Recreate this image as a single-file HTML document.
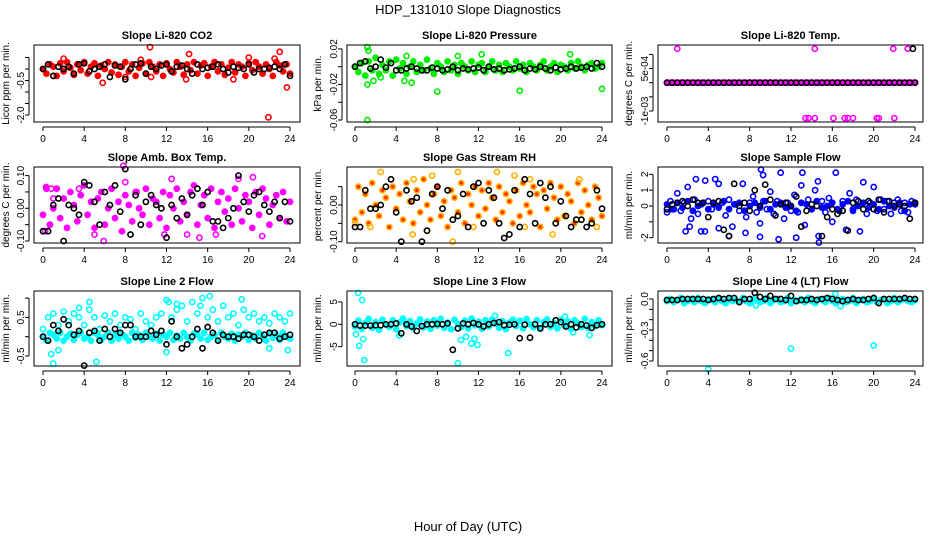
<!DOCTYPE html>
<html><head><meta charset="utf-8"><style>
html,body{margin:0;padding:0;background:#fff;}
svg{display:block;font-family:"Liberation Sans",Arial,sans-serif;}
</style></head><body>
<svg id="chart" width="936" height="540" viewBox="0 0 936 540" xmlns="http://www.w3.org/2000/svg">
<text x="468" y="14" text-anchor="middle" font-size="13">HDP_131010  Slope Diagnostics</text>
<text x="468" y="531" text-anchor="middle" font-size="13">Hour of Day (UTC)</text>
</svg>
<script>
const xTicks = [0,4,8,12,16,20,24];
// Panel 1: CO2
const co2Col = [0.0,-0.2,0.2,0.1,-0.3,0.25,-0.1,0.3,0.05,-0.25,0.2,-0.05,0.3,-0.2,0.1,0.25,-0.3,0.15,0.0,0.3,-0.15,0.2,-0.25,0.1,0.3,-0.1,0.2,-0.3,0.05,0.25,-0.2,0.3,0.1,-0.1,0.2,-0.3,0.25,0.0,-0.15,0.3,0.1,-0.25,0.2,-0.05,0.3,-0.2,0.15,0.25,-0.3,0.1,0.3,-0.1,0.2,-0.25,0.05,0.3,-0.15,0.2,0.1,-0.3,0.25,-0.05,0.3,0.1,-0.2,0.2,0.0,-0.3,0.3,0.15,-0.1,0.2,-0.2];
const co2OutX = [10.4,5.8,21.9,23.7,23.0,14.2,9.5,18.5,13.9,2.0,20.0,22.5,10.5,1.0,8.0];
const co2OutY = [0.95,-0.6,-2.1,-0.8,0.75,0.65,0.4,-0.45,-0.45,0.45,0.5,0.45,-0.35,-0.3,-0.35];
const co2Blk = [0.0,0.2,-0.3,0.1,0.0,0.1,-0.2,0.2,0.25,-0.1,0.0,0.1,0.2,-0.35,0.15,0.1,-0.45,0.0,0.2,0.25,-0.2,0.1,0.0,0.15,0.2,-0.1,0.1,0.15,0.0,-0.2,0.2,0.0,0.05,0.1,0.2,0.0,-0.15,0.1,0.05,0.0,0.2,-0.15,0.0,0.0,0.05,0.1,0.0,0.2,-0.3];
// Panel 2: Pressure
const presCol = [0.0,-0.006,0.004,-0.01,0.006,-0.004,0.01,-0.008,0.002,-0.004,0.006,-0.01,0.008,-0.002,0.004,-0.008,0.0,0.006,-0.006,0.002,-0.004,0.008,-0.002,-0.008,0.004,0.0,-0.006,0.006,-0.004,0.002,-0.008,0.004,0.0,-0.004,0.006,-0.006,0.002,0.004,-0.006,0.0,0.006,-0.004,0.002,-0.006,0.004,0.0,-0.004,0.006,-0.002,0.002,-0.006,0.004,0.0,-0.004,0.002,0.006,-0.004,0.0,0.004,-0.006,0.002,0.0,-0.004,0.004,-0.002,0.006,0.0,-0.004,0.002,0.004,-0.002,0.0,0.004];
const presOutX = [1.2,1.3,1.2,1.2,8.0,1.8,5.5,5.0,24.0,10.0,12.3,20.9,16.0,4.8,2.5];
const presOutY = [0.022,0.018,-0.06,-0.02,-0.028,-0.016,-0.018,0.012,-0.025,0.012,0.014,0.014,-0.027,-0.016,-0.012];
const presBlk = [0.0,0.004,0.006,-0.002,0.0,0.008,-0.001,0.004,-0.004,-0.004,-0.002,0.0,-0.002,-0.004,-0.004,-0.001,-0.002,-0.004,-0.003,0.0,-0.004,-0.002,-0.003,-0.002,-0.001,-0.004,0.0,-0.003,-0.002,-0.004,-0.003,-0.002,0.0,-0.004,-0.002,-0.003,0.0,-0.002,-0.004,-0.001,-0.003,-0.002,0.0,-0.002,-0.001,0.0,-0.002,0.004,0.0];
// Panel 3: Li-820 Temp
const tempCol = new Array(73).fill(0);
const tempOutX = [1.0,14.3,21.9,23.3,13.4,13.7,14.3,16.1,17.2,17.5,18.0,20.3,20.5,22.0];
const tempOutY = [0.0012,0.0012,0.0012,0.0012,-0.00125,-0.00125,-0.00125,-0.00125,-0.00125,-0.00125,-0.00125,-0.00125,-0.00125,-0.00125];
const tempBlk = new Array(49).fill(0);
const tempBlkOutX = [23.8];
const tempBlkOutY = [0.0012];
// Panel 4: Amb box temp
const ambCol = [-0.02,0.06,-0.05,0.0,0.06,-0.03,0.03,-0.06,0.05,0.01,-0.04,0.04,0.07,-0.02,0.02,-0.06,0.03,0.05,-0.05,0.0,0.06,-0.03,0.02,-0.07,0.04,0.01,-0.04,0.05,0.0,-0.02,0.06,-0.05,0.03,0.02,-0.03,0.05,-0.06,0.04,0.0,0.06,-0.04,0.02,-0.02,0.05,0.07,-0.05,0.01,0.04,-0.03,0.06,-0.06,0.02,0.05,-0.01,0.03,-0.05,0.06,0.0,-0.04,0.04,0.02,-0.06,0.05,-0.02,0.06,0.03,-0.05,0.01,0.04,-0.03,0.05,-0.04,0.02];
const ambOutX = [0.2,0.8,1.0,5.0,5.9,7.8,8.0,12.5,11.8,14.0,15.2,16.8,19.0,20.4,21.3,0.3,3.5,9.1];
const ambOutY = [-0.07,0.06,0.03,-0.08,-0.1,0.13,0.08,0.09,-0.08,-0.08,-0.09,-0.08,0.09,0.095,-0.085,0.065,0.06,0.05];
const ambBlk = [-0.07,-0.07,0.01,0.03,-0.1,0.01,0.0,-0.02,0.08,0.07,0.02,-0.05,0.05,0.01,0.07,-0.01,0.12,-0.08,0.04,-0.05,0.02,0.04,0.01,0.0,-0.09,0.01,-0.03,0.03,-0.02,0.04,0.06,0.01,0.05,-0.04,-0.04,-0.06,-0.03,0.0,0.1,0.02,-0.01,0.04,0.05,0.01,-0.01,0.02,-0.03,0.02,-0.04];
// Panel 5: Gas stream RH
const rhCol = [-0.04,0.05,-0.02,0.03,-0.05,0.06,0.0,-0.03,0.04,0.02,-0.06,0.05,-0.01,0.03,-0.04,0.06,0.01,-0.05,0.04,-0.02,0.07,0.0,-0.04,0.03,0.05,-0.03,0.01,-0.06,0.04,0.02,-0.02,0.06,-0.05,0.03,0.0,0.05,-0.03,0.04,-0.01,0.06,0.02,-0.04,0.05,-0.02,0.03,0.01,-0.05,0.04,-0.03,0.06,0.0,-0.02,0.05,0.03,-0.06,0.04,-0.01,0.06,0.02,-0.04,0.05,-0.03,0.03,0.01,-0.05,0.06,-0.02,0.04,0.0,-0.04,0.05,0.02,-0.03];
const rhOutX = [2.5,5.7,5.6,7.0,7.5,9.5,10.0,13.8,15.5,17.0,19.2,21.8,0.0,1.5,11.5,16.5,23.5];
const rhOutY = [0.09,0.07,-0.08,-0.07,0.08,-0.1,0.09,0.09,0.08,0.07,-0.08,0.07,-0.05,-0.06,-0.06,-0.06,-0.06];
const rhBlk = [-0.06,-0.06,0.04,-0.01,-0.01,0.0,0.05,0.07,-0.02,-0.1,0.04,0.01,0.02,-0.1,-0.07,0.03,0.05,-0.01,0.04,-0.04,-0.03,0.03,-0.06,0.05,0.06,-0.05,0.04,0.02,-0.05,-0.09,-0.08,0.04,-0.06,0.07,0.03,-0.05,0.06,0.02,0.05,-0.05,0.01,-0.03,-0.06,-0.04,-0.04,-0.06,-0.05,0.04,-0.01];
// Panel 6: Sample flow
const sfCol = [-0.4,0.3,-0.2,0.8,-0.3,0.2,1.2,-0.8,0.4,-0.5,0.1,-1.6,0.3,-0.2,1.7,-1.4,0.2,-0.6,0.4,-1.3,0.1,-0.3,1.4,-0.7,0.2,0.6,-0.4,-1.1,0.3,-0.2,0.9,-0.5,0.3,2.1,-0.8,0.2,-0.3,0.7,-0.4,1.3,-1.2,0.4,-0.2,1.0,-1.9,0.3,-0.4,0.5,-1.0,2.1,-0.3,0.3,-1.5,0.8,-0.2,0.4,-1.6,1.5,-0.5,0.2,1.2,-0.3,0.4,-0.2,0.3,-0.5,0.2,0.4,-0.3,0.2,-0.4,0.3,0.1];
const sfBand = [0.1,-0.2,0.2,-0.1,0.3,-0.3,0.0,0.2,-0.2,0.1,-0.1,0.3,-0.2,0.1,0.2,-0.3,0.0,0.2,-0.1,0.3,-0.2,0.1,0.2,-0.1,0.0,-0.3,0.2,0.1,-0.2,0.3,-0.1,0.0,0.2,-0.2,0.1,0.3,-0.3,0.0,0.2,-0.1,0.1,-0.2,0.3,0.0,-0.1,0.2,-0.3,0.1,0.2];
const sfOutX = [9.1,9.3,13.1,14.7,10.8,9.0,12.5,2.8,3.7,5.0,7.6,6.0,14.6,1.8,2.2,3.3];
const sfOutY = [2.3,1.95,2.1,-2.3,-2.1,-1.95,-2.0,1.7,1.6,1.4,-1.7,-1.9,1.55,-1.6,-1.3,-1.6];
const sfBlk = [-0.2,0.1,0.2,0.3,0.0,0.4,0.2,0.2,-0.7,0.2,0.3,-1.5,-1.9,1.4,0.0,0.2,-0.3,1.0,0.0,1.35,0.4,-0.6,0.1,0.2,0.0,0.6,-1.3,-0.3,0.1,0.0,-1.9,-0.7,-0.2,-0.5,-0.3,-1.55,0.2,0.3,-0.2,0.3,-0.2,0.4,-0.4,0.3,0.0,0.1,0.0,-0.8,0.2];
// Panel 7: Line 2 flow
const l2Band = [0.0,-0.1,0.1,0.05,-0.05,0.1,-0.1,0.0,0.08,-0.08,0.05,0.1,-0.05,0.0,-0.1,0.1,0.05,-0.08,0.0,0.1,-0.1,0.05,-0.05,0.08,0.0,-0.1,0.1,-0.03,0.05,-0.08,0.1,0.0,-0.05,0.08,-0.1,0.05,0.0,0.1,-0.08,0.03,-0.05,0.1,0.0,-0.1,0.08,0.05,-0.05,0.1,-0.08,0.0,0.05,-0.1,0.1,0.0,-0.05,0.08,-0.1,0.05,0.0,0.1,-0.08,0.03,-0.05,0.1,0.0,-0.1,0.08,-0.03,0.05,-0.08,0.1,0.0,-0.05];
const l2Upper = [0.2,0.5,0.6,0.3,0.65,0.4,0.6,0.5,0.3,0.7,0.5,0.2,0.55,0.4,0.6,0.3,0.5,0.45,0.2,0.6,0.4,0.3,0.5,0.6,0.95,0.5,0.7,0.8,0.4,0.9,0.6,1.0,0.5,0.7,0.4,0.8,0.5,0.6,0.3,0.7,0.5,0.6,0.4,0.5,0.35,0.6,0.5,0.4,0.6];
const l2OutX = [0.8,1.0,1.5,5.2,4.5,12.0,13.0,16.2,19.3,22.0,23.8,12.2,15.3,3.5];
const l2OutY = [-0.45,-0.7,-0.35,-0.65,0.9,-0.4,0.85,1.05,0.97,-0.3,-0.35,0.9,0.8,0.75];
const l2Blk = [0.0,-0.1,0.3,0.15,0.45,0.3,0.05,0.15,-0.75,0.1,0.15,-0.1,0.2,0.0,0.2,0.1,0.3,0.3,0.0,0.0,0.0,0.15,0.05,0.15,-0.2,0.4,0.0,-0.3,-0.2,0.0,0.2,-0.3,0.25,0.1,-0.1,0.05,0.0,0.0,-0.05,0.05,0.05,0.0,-0.1,0.05,0.1,0.1,-0.05,0.0,0.05];
// Panel 8: Line 3 flow
const l3Col = [-0.5,0.8,-1.0,0.3,1.2,-0.8,0.5,-1.2,1.0,0.0,-0.6,0.9,-1.1,0.4,1.3,-0.4,0.7,-0.9,0.2,1.1,-0.7,0.6,-1.0,0.9,-0.3,1.2,-0.8,0.4,-1.1,1.0,0.1,-0.6,0.8,-0.9,1.3,-0.2,0.6,-1.0,0.9,-0.5,1.1,0.2,-0.8,0.7,-1.1,0.4,1.0,-0.4,0.8,-0.9,1.2,0.0,-0.7,0.9,-1.0,0.5,1.1,-0.6,0.3,-0.9,1.0,-0.3,0.7,-1.0,0.9,0.2,-0.6,1.2,-0.8,0.5,-0.4,0.9,-0.2];
const l3OutX = [0.3,0.7,0.1,0.4,0.8,0.9,4.3,10.0,10.3,10.8,11.3,11.6,11.9,14.9,22.8,21.2,13.6,20.4];
const l3OutY = [7.0,5.4,-2.2,-4.8,-3.3,-8.0,-2.5,-8.7,-3.5,-2.8,-4.3,-3.2,-4.6,-6.4,-2.4,-1.8,1.9,1.7];
const l3Blk = [0.0,-0.3,-0.3,-0.3,-0.2,-0.2,0.0,0.0,0.2,-2.0,0.0,-0.5,-1.5,-0.4,0.0,0.0,0.1,0.0,0.2,-5.7,-0.9,0.2,0.0,0.3,0.0,-0.5,0.0,0.3,0.5,-0.2,-0.1,0.0,-3.1,-0.1,-3.0,0.0,-0.9,0.0,0.0,0.9,0.5,-0.5,0.0,-0.7,0.0,-0.3,-0.8,-0.2,0.0];
// Panel 9: Line 4 flow
const l4Col = [-0.02,0.0,-0.03,-0.01,0.01,-0.04,-0.02,0.0,-0.03,0.01,-0.02,-0.04,0.0,-0.01,-0.03,0.01,-0.02,-0.04,0.0,-0.02,-0.01,-0.03,0.01,-0.02,-0.04,0.0,-0.01,-0.03,-0.02,0.01,-0.04,-0.01,0.0,-0.03,-0.02,0.01,-0.04,-0.01,-0.02,0.0,-0.03,0.01,-0.02,-0.04,0.0,-0.01,-0.03,0.01,-0.02,-0.04,-0.01,0.0,-0.03,-0.02,0.01,-0.04,-0.01,0.0,-0.03,-0.02,0.01,-0.03,-0.01,0.0,-0.04,-0.02,0.01,-0.03,-0.01,0.0,-0.02,-0.03,-0.01];
const l4OutX = [4.0,12.0,20.0,8.6,16.8,16.3];
const l4OutY = [-0.68,-0.48,-0.45,-0.06,-0.07,0.05];
const l4Blk = [-0.01,-0.01,-0.01,0.0,0.0,0.0,0.0,0.0,-0.01,0.0,0.01,0.0,0.01,0.01,-0.03,0.0,0.0,0.06,0.02,0.0,0.03,0.0,0.0,-0.01,0.03,-0.02,-0.01,-0.01,0.0,-0.01,0.0,0.01,0.0,-0.01,-0.02,-0.01,0.0,-0.01,-0.01,0.0,0.01,-0.04,0.0,0.0,0.0,0.0,0.01,0.0,0.0];

const cols = [{l:34,r:300,x0:43,x24:290,lab:9,tl:24},{l:347,r:612,x0:355,x24:602,lab:321,tl:337},{l:658,r:923,x0:667,x24:915,lab:632,tl:648}];
const rows = [{t:45,b:122},{t:167,b:243},{t:291,b:366}];

const panels = [
 {c:0,r:0,title:'Slope Li-820 CO2',ylab:'Licor ppm per min.',ya:[0,69],yb:[-2,115],ticks:[0.5,0,-0.5,-1,-1.5,-2],labs:[[-0.5,'-0.5'],[-2,'-2.0']],
  series:[[co2Col,'#ff0000',true]],outX:co2OutX,outY:co2OutY,ocol:'#ff0000',blk:co2Blk},
 {c:1,r:0,title:'Slope Li-820 Pressure',ylab:'kPa per min.',ya:[0,66.7],yb:[-0.06,120],ticks:[0.02,0,-0.02,-0.04,-0.06],labs:[[0.02,'0.02'],[-0.02,'-0.02'],[-0.06,'-0.06']],
  series:[[presCol,'#00ee00',true]],outX:presOutX,outY:presOutY,ocol:'#00ee00',blk:presBlk},
 {c:2,r:0,title:'Slope Li-820 Temp.',ylab:'degrees C per min.',ya:[0,82.7],yb:[-0.001,111],ticks:[0.001,0.0005,0,-0.0005,-0.001],labs:[[0.0005,'5e-04'],[-0.001,'-1e-03']],
  series:[[tempCol,'#ff00ff',true]],outX:tempOutX,outY:tempOutY,ocol:'#ff00ff',blk:tempBlk,bX:tempBlkOutX,bY:tempBlkOutY},
 {c:0,r:1,title:'Slope Amb. Box Temp.',ylab:'degrees C per min.',ya:[0,208.3],yb:[-0.1,241],ticks:[0.1,0.05,0,-0.05,-0.1],labs:[[0.1,'0.10'],[0,'0.00'],[-0.1,'-0.10']],
  series:[[ambCol,'#ff00ff',true]],outX:ambOutX,outY:ambOutY,ocol:'#ff00ff',blk:ambBlk},
 {c:1,r:1,title:'Slope Gas Stream RH',ylab:'percent per min.',ya:[0,205],yb:[-0.1,241.7],ticks:[0.05,0,-0.05,-0.1],labs:[[0,'0.00'],[-0.1,'-0.10']],
  series:[[rhCol,'#ffb000',true]],outX:rhOutX,outY:rhOutY,ocol:'#ffb000',blk:rhBlk,rh:true},
 {c:2,r:1,title:'Slope Sample Flow',ylab:'ml/min per min.',ya:[0,206],yb:[-2,237.7],ticks:[2,1,0,-1,-2],labs:[[2,'2'],[1,'1'],[0,'0'],[-2,'-2']],
  series:[[sfCol,'#0000ff',false],[sfBand,'#0000ff',true]],outX:sfOutX,outY:sfOutY,ocol:'#0000ff',blk:sfBlk},
 {c:0,r:2,title:'Slope Line 2 Flow',ylab:'ml/min per min.',ya:[0,336.7],yb:[-0.5,356],ticks:[1,0.5,0,-0.5],labs:[[0.5,'0.5'],[-0.5,'-0.5']],
  series:[[l2Band,'#00ffff',true],[l2Upper,'#00ffff',false]],outX:l2OutX,outY:l2OutY,ocol:'#00ffff',blk:l2Blk},
 {c:1,r:2,title:'Slope Line 3 Flow',ylab:'ml/min per min.',ya:[0,324.3],yb:[-5,346.7],ticks:[5,0,-5],labs:[[5,'5'],[0,'0'],[-5,'-5']],
  series:[[l3Col,'#00ffff',true]],outX:l3OutX,outY:l3OutY,ocol:'#00ffff',blk:l3Blk},
 {c:2,r:2,title:'Slope Line 4 (LT) Flow',ylab:'ml/min per min.',ya:[0,299],yb:[-0.6,361],ticks:[0,-0.1,-0.2,-0.3,-0.4,-0.5,-0.6],labs:[[0,'0.0'],[-0.3,'-0.3'],[-0.6,'-0.6']],
  series:[[l4Col,'#00ffff',true]],outX:l4OutX,outY:l4OutY,ocol:'#00ffff',blk:l4Blk}
];

const NS='http://www.w3.org/2000/svg';
const svg=document.getElementById('chart');
function mk(tag,attrs,parent){const e=document.createElementNS(NS,tag);for(const k in attrs)e.setAttribute(k,attrs[k]);(parent||svg).appendChild(e);return e;}

panels.forEach((p,pi)=>{
  const C=cols[p.c],R=rows[p.r];
  const xs=h=>C.x0+(C.x24-C.x0)*h/24;
  const ys=v=>p.ya[1]+(v-p.ya[0])*(p.yb[1]-p.ya[1])/(p.yb[0]-p.ya[0]);
  const g=mk('g',{});
  
  
  const t=mk('text',{x:(C.l+C.r)/2,y:R.t-6,'text-anchor':'middle','font-size':'11','font-weight':'bold'},g);
  t.textContent=p.title;
  
  
  const yl=mk('text',{x:C.lab,y:(R.t+R.b)/2,'text-anchor':'middle','font-size':'10',transform:'rotate(-90 '+C.lab+' '+(R.t+R.b)/2+')'},g);
  yl.textContent=p.ylab;
  
  
  const pg=mk('g',{},g);
  
  
  const dot=(h,v,col,fill,par)=>{
    const c=mk('circle',{cx:xs(h).toFixed(1),cy:ys(v).toFixed(1),r:2.6,fill:fill,stroke:col,'stroke-width':1.6},par);
    
    
  };
  const fillFor=col=>p.rh?'#ff3000':col;
  p.series.forEach(([arr,col,filled])=>{arr.forEach((v,i)=>dot(i*24/(arr.length-1),v,col,filled?fillFor(col):'none',pg));});
  p.outX.forEach((h,i)=>dot(h,p.outY[i],p.ocol,'none',pg));
  p.blk.forEach((v,i)=>dot(i*24/(p.blk.length-1),v,'#000','none',pg));
  if(p.bX)p.bX.forEach((h,i)=>dot(h,p.bY[i],'#000','none',pg));
  const box=mk('rect',{x:C.l,y:R.t,width:C.r-C.l,height:R.b-R.t,fill:'none',stroke:'#000','stroke-width':1},g);
  
  
  const xa=mk('g',{},g);
  
  
  mk('line',{x1:xs(0),x2:xs(24),y1:R.b+5,y2:R.b+5,stroke:'#000'},xa);
  xTicks.forEach(h=>{
    mk('line',{x1:xs(h),x2:xs(h),y1:R.b+5,y2:R.b+9,stroke:'#000'},xa);
    const tl=mk('text',{x:xs(h),y:R.b+20,'text-anchor':'middle','font-size':'10'},xa);
    tl.textContent=h;
    
    
  });
  const ya=mk('g',{},g);
  
  
  const ax=C.l-5;
  mk('line',{x1:ax,x2:ax,y1:ys(p.ticks[0]),y2:ys(p.ticks[p.ticks.length-1]),stroke:'#000'},ya);
  p.ticks.forEach(v=>mk('line',{x1:ax-4,x2:ax,y1:ys(v),y2:ys(v),stroke:'#000'},ya));
  p.labs.forEach(([v,s])=>{
    const lx=C.tl,ly=ys(v);
    const tl=mk('text',{x:lx,y:ly,'text-anchor':'middle','font-size':'10',transform:'rotate(-90 '+lx+' '+ly+')'},ya);
    tl.textContent=s;
    
    
  });
});
</script>
</body></html>
